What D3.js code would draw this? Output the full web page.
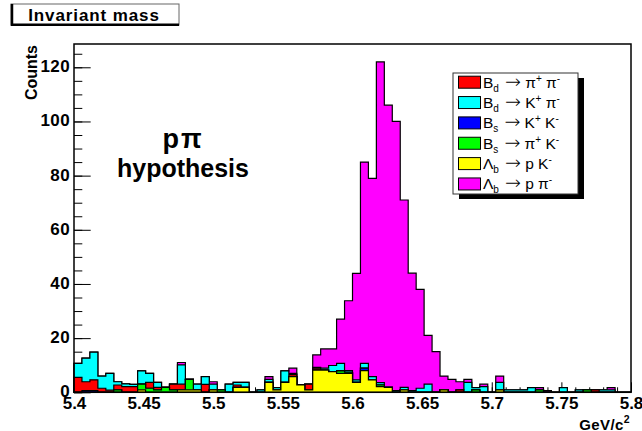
<!DOCTYPE html>
<html>
<head>
<meta charset="utf-8">
<script src="https://cdn.jsdelivr.net/npm/d3@7"></script>
<style>
  body { margin: 0; background: #fff; }
  text { font-family: "Liberation Sans", Arial, Helvetica, sans-serif; }
</style>
</head>
<body>
<svg id="chart" width="642" height="431"></svg>
<script>
// histogram binning
const xMin = 5.4, xMax = 5.8, nBins = 70;

// bin contents per channel (70 bins)
const bdPiPi = [5.5,3.3,4.0,1.5,0.8,1.8,2.1,2.1,0,2.2, 0.9,0,2.1,2.1,0,0,2.9,0,0,0,
                0.9,0,0,0,0,0,0,0.7,0,2.1, 0.7,0,0,0,0,0,0,0,0,0,
                0,0,0,0,0,0,0,0,0.9,0, 0,0,0,0,0,0,0,0,0,0,
                0,0,0,0,0,0.9,0,0,0,0];
const bdKPi  = [5.2,8.7,10.2,4.5,6.2,1.2,1.0,0.8,4.9,3.3, 1.9,0,0,7.1,0,2.1,2.9,2.1,0,3.0,
                1.0,1.9,0,0.9,1.1,0.8,4.2,0.5,0,0, 0.3,0.7,2.3,2.8,0.6,0.9,1.8,1.2,0.9,0,
                0.6,0.9,0.6,1.5,3.0,0,0,0,0,3.7, 0.8,2.1,0,2.8,0.9,0.9,0.9,1.7,0,0,
                0,1.7,0,0.9,0,0,0.9,0.9,0,0];
const bsKK   = [0,0.6,0.6,0,0,0,0,0,0,0, 0,0,0,0,0,0,0,0,0,0,
                0,0,0,0,0,0,0,0,0,0, 0,0,0,0,0,0,0.9,0,0,0,
                0,0,0,0,0,0,0,0,0,0, 0,0,0,0,0,0,0,0,0,0,
                0,0,0,0,0,0,0,0,0,0];
const bsPiK  = [0,0,0,0,0,0.9,0,0,2.1,1.5, 0.9,1.8,0.9,0,3.9,0,0,0,0.9,0,
                0,0,0,0,0,0,0,0,0,0, 0,0,0,0.9,0.4,0,0,0,0.6,0,
                0,0,0,0,0,0,0,0,0,0, 0.9,0,0,0,0,0,0,0,0.9,0,
                0,0,0,0,0.9,0,0,0,0,0];
const lbPK   = [0,0,0,0,0,0,0,0,0.9,0, 0,0,0,0.9,0.9,0.9,0,0.9,0,0,
                1.8,1.8,0,0,3.7,0.9,3.7,5.8,2.7,0.9, 8.2,8.2,7.6,7.0,7.0,3.7,8.0,4.6,2.1,1.8,
                0,0.9,0,0,0,0,0.9,0,0,0, 0,0,0,0.9,0,0,0,0,0,0,
                0,0,0,0,0,0,0,0,0,0];
const lbPPi  = [0,0,0,0,0,0,0,0,0,0, 0,0,0,0.9,0,0,0,0.9,0,0,
                0,0,0,0,1.0,0,0,1.9,0,0, 4.6,7.1,6.1,16.3,25.8,39.3,74.3,73.2,118.4,104.2,
                99.4,69.2,43.4,36.5,18,15,5.1,4.8,3.0,1.1, 0,0.9,0,2.3,0,0,0,0,0.8,0.6,
                0,0,0,0,0,0,0,0.8,0,0];

// legend order and colours
const channels = [
  { key: "bdPiPi", values: bdPiPi, color: "#ff0000", name: ["B","d","\u03c0","+"," \u03c0","-"] },
  { key: "bdKPi",  values: bdKPi,  color: "#00ffff", name: ["B","d","K","+"," \u03c0","-"] },
  { key: "bsKK",   values: bsKK,   color: "#0000ff", name: ["B","s","K","+"," K","-"] },
  { key: "bsPiK",  values: bsPiK,  color: "#00ff00", name: ["B","s","\u03c0","+"," K","-"] },
  { key: "lbPK",   values: lbPK,   color: "#ffff00", name: ["\u039b","b","p K","",  "","-"] },
  { key: "lbPPi",  values: lbPPi,  color: "#ff00ff", name: ["\u039b","b","p \u03c0","","","-"] }
];
// stacking order, bottom to top
const stackOrder = ["lbPK", "bsPiK", "bsKK", "bdPiPi", "bdKPi", "lbPPi"];

const xMajor = [5.4, 5.45, 5.5, 5.55, 5.6, 5.65, 5.7, 5.75, 5.8];
const xLabels = ["5.4", "5.45", "5.5", "5.55", "5.6", "5.65", "5.7", "5.75", "5.8"];
const yMajor = [0, 20, 40, 60, 80, 100, 120];

const svg = d3.select("#chart");
const pLeft = 74, pRight = 631, pTop = 44, pBottom = 392.3;

const x = d3.scaleLinear().domain([xMin, xMax]).range([pLeft, pRight]);
const y = d3.scaleLinear().domain([0, 128.6]).range([pBottom, pTop]);
const binW = (xMax - xMin) / nBins;

// ticks (drawn first, histograms cover them like in ROOT)
const xMinor = d3.range(0, 41).map(i => xMin + i * 0.01);
const yMinor = d3.range(0, 26).map(i => i * 5);

function boldLabels(g) {
  g.selectAll("text").attr("font-size", 17).attr("font-weight", "bold")
    .attr("font-family", "Liberation Sans, Arial, sans-serif").attr("fill", "#000");
}

svg.append("g").attr("transform", `translate(0,${pBottom})`)
  .call(d3.axisBottom(x).tickValues(xMinor).tickSize(-5).tickFormat(""))
  .call(g => g.select(".domain").remove())
  .selectAll("line").attr("stroke", "#000");
svg.append("g").attr("transform", `translate(0,${pBottom})`)
  .call(d3.axisBottom(x).tickValues(xMajor).tickSize(-10).tickPadding(5)
        .tickFormat((d, i) => xLabels[i]))
  .call(g => g.select(".domain").remove())
  .call(boldLabels)
  .selectAll("line").attr("stroke", "#000");

svg.append("g").attr("transform", `translate(${pLeft},0)`)
  .call(d3.axisLeft(y).tickValues(yMinor).tickSize(-8.3).tickFormat(""))
  .call(g => g.select(".domain").remove())
  .selectAll("line").attr("stroke", "#000");
svg.append("g").attr("transform", `translate(${pLeft},0)`)
  .call(d3.axisLeft(y).tickValues(yMajor).tickSize(-16.7).tickPadding(4))
  .call(g => g.select(".domain").remove())
  .call(boldLabels)
  .call(g => g.selectAll("text").attr("dy", "0.26em").attr("letter-spacing", 0.4))
  .selectAll("line").attr("stroke", "#000");

// stacked histograms
const rows = d3.range(nBins).map(i => {
  const r = { bin: i };
  channels.forEach(c => r[c.key] = c.values[i]);
  return r;
});
const stacked = d3.stack().keys(stackOrder)(rows);
const colorOf = Object.fromEntries(channels.map(c => [c.key, c.color]));

function stepPoints(layer) {
  const pts = [[x(xMin), y(0)]];
  layer.forEach((d, i) => {
    pts.push([x(xMin + i * binW), y(d[1])]);
    pts.push([x(xMin + (i + 1) * binW), y(d[1])]);
  });
  pts.push([x(xMax), y(0)]);
  return pts;
}

const hist = svg.append("g");
stacked.slice().reverse().forEach(layer => {
  hist.append("path")
    .attr("d", d3.line()(stepPoints(layer)) + "Z")
    .attr("fill", colorOf[layer.key])
    .attr("stroke", "#000")
    .attr("stroke-width", 1.2)
    .attr("stroke-linejoin", "miter");
});

// frame
svg.append("rect")
  .attr("x", pLeft).attr("y", pTop)
  .attr("width", pRight - pLeft).attr("height", pBottom - pTop)
  .attr("fill", "none").attr("stroke", "#000").attr("stroke-width", 1.5);

// axis titles
svg.append("text")
  .attr("transform", `translate(37,${pTop + 1}) rotate(-90)`)
  .attr("text-anchor", "end")
  .attr("font-size", 16).attr("font-weight", "bold")
  .text("Counts");

const xt = svg.append("text")
  .attr("x", pRight - 1).attr("y", 429.5)
  .attr("text-anchor", "end")
  .attr("font-size", 15).attr("font-weight", "bold").attr("letter-spacing", 0.4);
xt.append("tspan").text("GeV/c");
xt.append("tspan").attr("font-size", 10.5).attr("dy", -7).text("2");

// title box
const tb = svg.append("g");
tb.append("rect").attr("x", 11).attr("y", 4).attr("width", 168).attr("height", 21)
  .attr("fill", "#fff").attr("stroke", "#666").attr("stroke-width", 1);
tb.append("line").attr("x1", 12).attr("x2", 12).attr("y1", 4).attr("y2", 26)
  .attr("stroke", "#000").attr("stroke-width", 2.5);
tb.append("line").attr("x1", 11).attr("x2", 179).attr("y1", 24.8).attr("y2", 24.8)
  .attr("stroke", "#000").attr("stroke-width", 2.5);
tb.append("text").attr("x", 94).attr("y", 21).attr("text-anchor", "middle")
  .attr("font-size", 17).attr("font-weight", "bold").attr("letter-spacing", 0.9)
  .text("Invariant mass");

// hypothesis label
svg.append("text").attr("x", 183).attr("y", 148).attr("text-anchor", "middle")
  .attr("font-size", 27).attr("font-weight", "bold").attr("letter-spacing", 2)
  .text("p\u03c0");
svg.append("text").attr("x", 183).attr("y", 177).attr("text-anchor", "middle")
  .attr("font-size", 25).attr("font-weight", "bold").text("hypothesis");

// legend
const lg = svg.append("g");
const lgX = 453, lgY = 73, lgW = 125, lgH = 121;
lg.append("rect").attr("x", lgX + 6).attr("y", lgY + 5).attr("width", lgW).attr("height", lgH)
  .attr("fill", "#000");
lg.append("rect").attr("x", lgX).attr("y", lgY).attr("width", lgW).attr("height", lgH)
  .attr("fill", "#fff").attr("stroke", "#333").attr("stroke-width", 1);

channels.forEach((c, i) => {
  const cy = 82.2 + i * 20.35;
  lg.append("rect").attr("x", 458.5).attr("y", cy - 6).attr("width", 22).attr("height", 12)
    .attr("fill", c.color).attr("stroke", "#000").attr("stroke-width", 1);
  const t = lg.append("text").attr("x", 483).attr("y", cy + 5.5).attr("font-size", 15.5);
  const [a, sub, mid, sup1, rest, sup2] = c.name;
  t.append("tspan").text(a);
  t.append("tspan").attr("font-size", 10).attr("dy", 4).text(sub);
  t.append("tspan").attr("dy", -4).attr("font-size", 19).attr("font-family", "DejaVu Sans")
    .attr("font-weight", 300).text(" \u2192");
  t.append("tspan").text(" " + mid);
  if (sup1) t.append("tspan").attr("font-size", 10).attr("dy", -6).text(sup1);
  if (rest) t.append("tspan").attr("dy", 6).text(rest);
  t.append("tspan").attr("font-size", 10).attr("dy", -6).text(sup2);
});
</script>
</body>
</html>
